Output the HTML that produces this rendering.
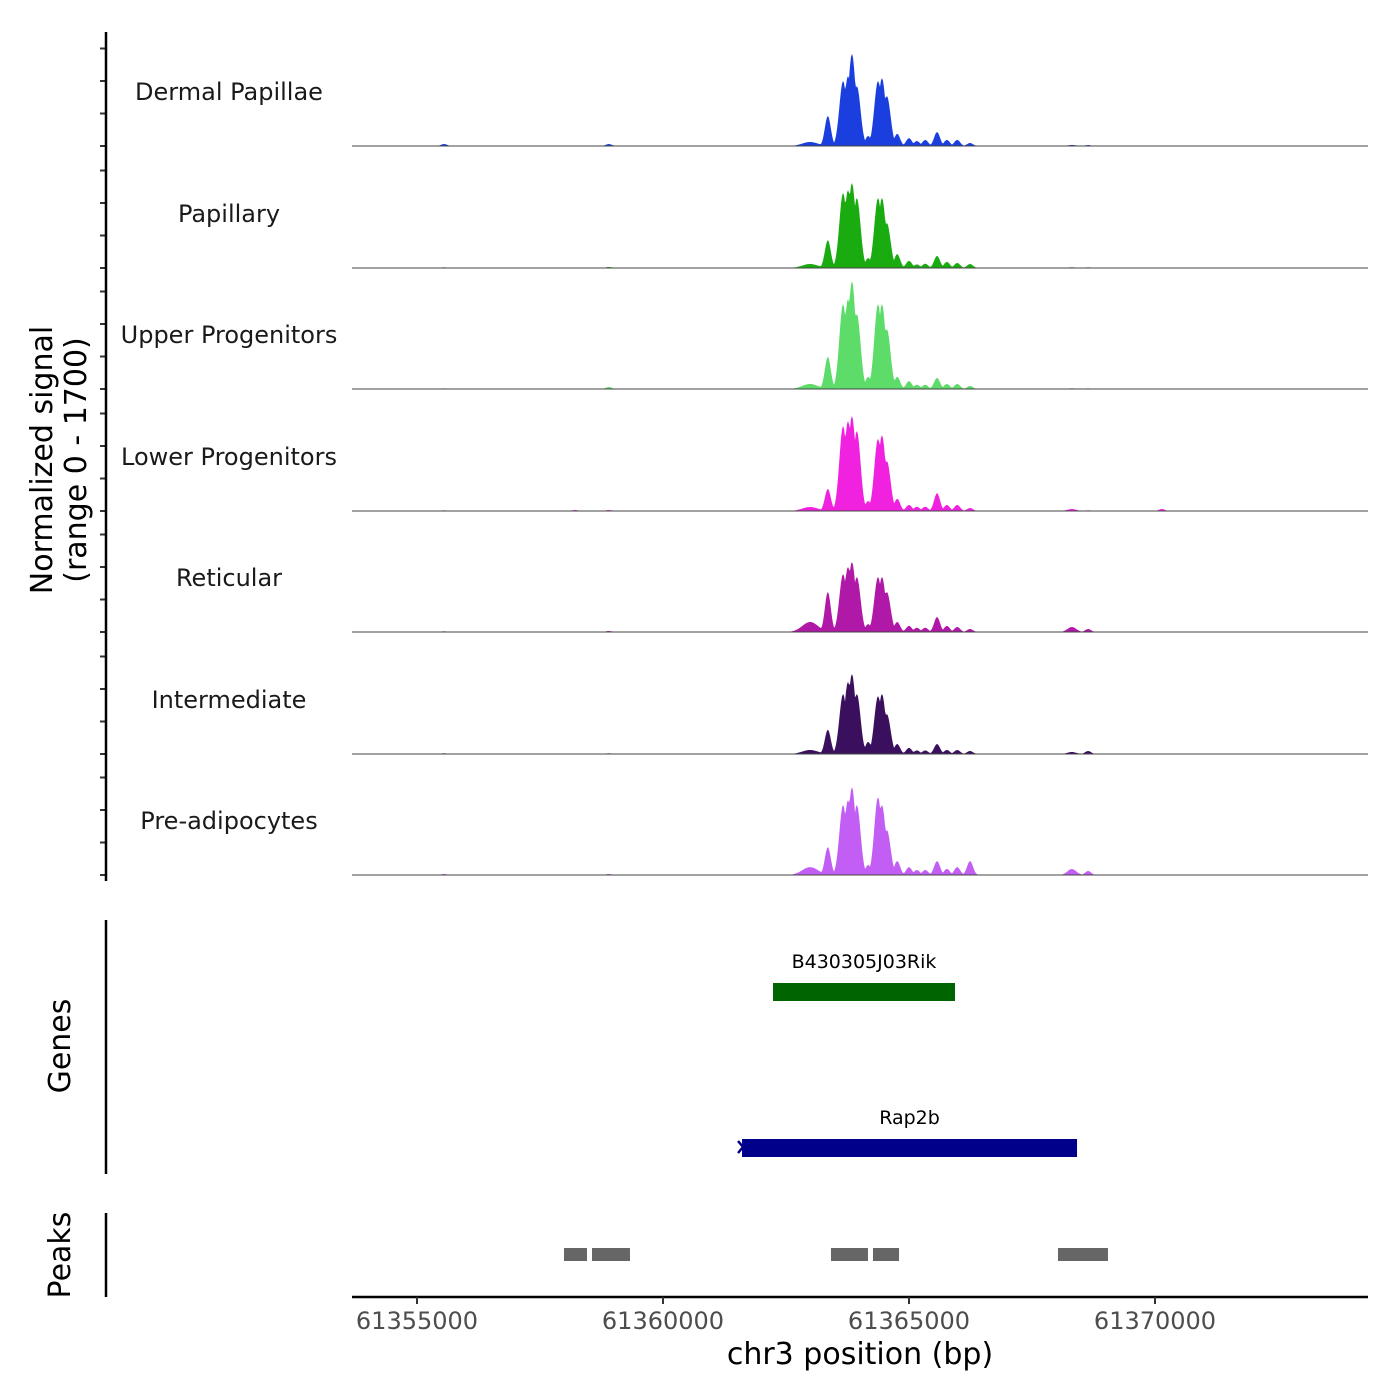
<!DOCTYPE html>
<html><head><meta charset="utf-8"><style>
html,body{margin:0;padding:0;background:#fff;}
svg{display:block;font-family:"DejaVu Sans","Liberation Sans",sans-serif;}
</style></head><body>
<svg id="chart" width="1400" height="1400" viewBox="0 0 1400 1400" xmlns="http://www.w3.org/2000/svg">
<g id="tracks"></g>
<g id="axes"></g>
</svg>
<script>
// ---- data ----
const trackNames = ["Dermal Papillae","Papillary","Upper Progenitors","Lower Progenitors","Reticular","Intermediate","Pre-adipocytes"];
const trackColors = ["#1a3fde","#1aab10","#5ddc6a","#f022e0","#b018a8","#3a0f5e","#c35ef5"];
const peakCenters = [61362990,61363350,61363660,61363760,61363840,61363940,61364170,61364370,61364450,61364550,61364760,61365000,61365160,61365330,61365570,61365770,61365980,61366240,61368310,61368640,61355550,61358900,61358210,61370140];
const peakWidths  = [160,60,75,75,75,75,60,75,75,75,60,60,60,60,60,60,60,60,90,60,60,60,60,60];
const sigDP  = [56,420,910,980,1290,840,140,910,950,700,170,110,70,85,195,85,85,42,14,14,28,28,0,0];
const sigPap = [56,390,1050,1090,1190,980,140,980,980,630,195,100,50,60,170,85,70,56,10,10,10,14,0,0];
const sigUP  = [70,450,1190,1260,1510,1050,170,1190,1190,840,170,110,60,60,155,70,70,42,10,10,10,28,0,0];
const sigLP  = [56,310,1190,1260,1330,1120,140,1010,1060,700,170,85,60,60,250,85,85,42,28,10,10,14,14,28];
const sigRet = [140,560,810,910,980,770,110,770,770,560,140,85,60,60,210,85,70,42,70,42,10,14,0,0];
const sigInt = [56,340,840,1010,1120,840,170,810,840,560,140,85,50,50,140,56,56,42,28,42,10,10,0,0];
const sigPre = [110,390,980,1050,1230,980,140,1090,980,630,195,110,70,70,195,85,110,195,84,56,14,14,0,0];
const trackSignals = [sigDP,sigPap,sigUP,sigLP,sigRet,sigInt,sigPre];
const geneNames = ["B430305J03Rik","Rap2b"];
const geneStarts = [61362236,61361606];
const geneEnds = [61365935,61368415];
const geneColors = ["#006400","#00008b"];
const regionStarts = [61357988,61358557,61363414,61364268,61368028];
const regionEnds   = [61358455,61359329,61364166,61364797,61369044];
const xTicks = [61355000,61360000,61365000,61370000];
const yMax = 1700;

// ---- scales ----
const X0 = 352, X1 = 1368, D0 = 61353679, D1 = 61374329;
const xs = v => X0 + (v - D0) / (D1 - D0) * (X1 - X0);
const baselines = [146,268,389,511,632,754,875];
const trackH = 121.5;
const ys = (v, i) => baselines[i] - v / yMax * trackH;

const NS = "http://www.w3.org/2000/svg";
function mk(tag, attrs, parent){const e=document.createElementNS(NS,tag);for(const k in attrs)e.setAttribute(k,attrs[k]);parent.appendChild(e);return e;}
const gT = document.getElementById("tracks");
const gA = document.getElementById("axes");

trackSignals.forEach((sig, i) => {
  let d = "M" + X0 + "," + baselines[i];
  for (let px = X0; px <= X1; px += 1) {
    const bp = D0 + (px - X0) / (X1 - X0) * (D1 - D0);
    let v = 0;
    for (let k = 0; k < peakCenters.length; k++) {
      const z = (bp - peakCenters[k]) / peakWidths[k];
      const c = sig[k] * Math.exp(-0.5 * z * z);
      if (c > v) v = c;
    }
    if (v > yMax) v = yMax;
    d += " L" + px + "," + ys(v, i).toFixed(2);
  }
  d += " L" + X1 + "," + baselines[i] + " Z";
  const p = mk("path", {d: d, fill: trackColors[i]}, gT);
  
  
  const bl = mk("line", {x1: X0, x2: X1, y1: baselines[i], y2: baselines[i], stroke: "#444", "stroke-width": 1}, gT);
  
  
  const t = mk("text", {x: 229, y: baselines[i] - 46, "text-anchor": "middle", "font-size": 24, fill: "#1a1a1a"}, gT);
  t.textContent = trackNames[i];
  
  
  [0, 0.2675, 0.535, 0.8025].forEach(f => {
    const tk = mk("line", {x1: 100, x2: 106, y1: baselines[i] - f * trackH, y2: baselines[i] - f * trackH, stroke: "#333", "stroke-width": 2}, gA);
    
    
  });
});

// y axis
let e = mk("line", {x1: 106, x2: 106, y1: 32, y2: 881, stroke: "#000", "stroke-width": 2.5}, gA);


e = mk("text", {transform: "translate(52,460) rotate(-90)", "text-anchor": "middle", "font-size": 30, fill: "#000"}, gA);
e.textContent = "Normalized signal";


e = mk("text", {transform: "translate(86,460) rotate(-90)", "text-anchor": "middle", "font-size": 30, fill: "#000"}, gA);
e.textContent = "(range 0 - 1700)";



// genes
e = mk("line", {x1: 106, x2: 106, y1: 920, y2: 1174, stroke: "#000", "stroke-width": 2.5}, gA);


e = mk("text", {transform: "translate(70,1046) rotate(-90)", "text-anchor": "middle", "font-size": 30, fill: "#000"}, gA);
e.textContent = "Genes";


const geneY = [983, 1139];
geneNames.forEach((g, i) => {
  const r = mk("rect", {x: xs(geneStarts[i]), y: geneY[i], width: xs(geneEnds[i]) - xs(geneStarts[i]), height: 18, fill: geneColors[i]}, gA);
  
  
  const t = mk("text", {x: (xs(geneStarts[i]) + xs(geneEnds[i])) / 2, y: geneY[i] - 15, "text-anchor": "middle", "font-size": 19, fill: "#000"}, gA);
  t.textContent = g;
  
  
});
e = mk("path", {d: "M" + (xs(geneStarts[1]) - 4) + ",1141 l5,6 l-5,6", fill: "none", stroke: "#00008b", "stroke-width": 2.5}, gA);



// peaks
e = mk("line", {x1: 106, x2: 106, y1: 1213, y2: 1297, stroke: "#000", "stroke-width": 2.5}, gA);


e = mk("text", {transform: "translate(70,1255) rotate(-90)", "text-anchor": "middle", "font-size": 30, fill: "#000"}, gA);
e.textContent = "Peaks";


regionStarts.forEach((s, i) => {
  const r = mk("rect", {x: xs(s), y: 1248, width: xs(regionEnds[i]) - xs(s), height: 13, fill: "#666"}, gA);
  
  
});

// x axis
e = mk("line", {x1: X0, x2: X1, y1: 1297, y2: 1297, stroke: "#000", "stroke-width": 2.5}, gA);


xTicks.forEach(v => {
  const tk = mk("line", {x1: xs(v), x2: xs(v), y1: 1297, y2: 1304, stroke: "#333", "stroke-width": 2}, gA);
  
  
  const t = mk("text", {x: xs(v), y: 1329, "text-anchor": "middle", "font-size": 24, fill: "#4d4d4d"}, gA);
  t.textContent = String(v);
  
  
});
e = mk("text", {x: 860, y: 1364, "text-anchor": "middle", "font-size": 30, fill: "#000"}, gA);
e.textContent = "chr3 position (bp)";


</script>
</body></html>
